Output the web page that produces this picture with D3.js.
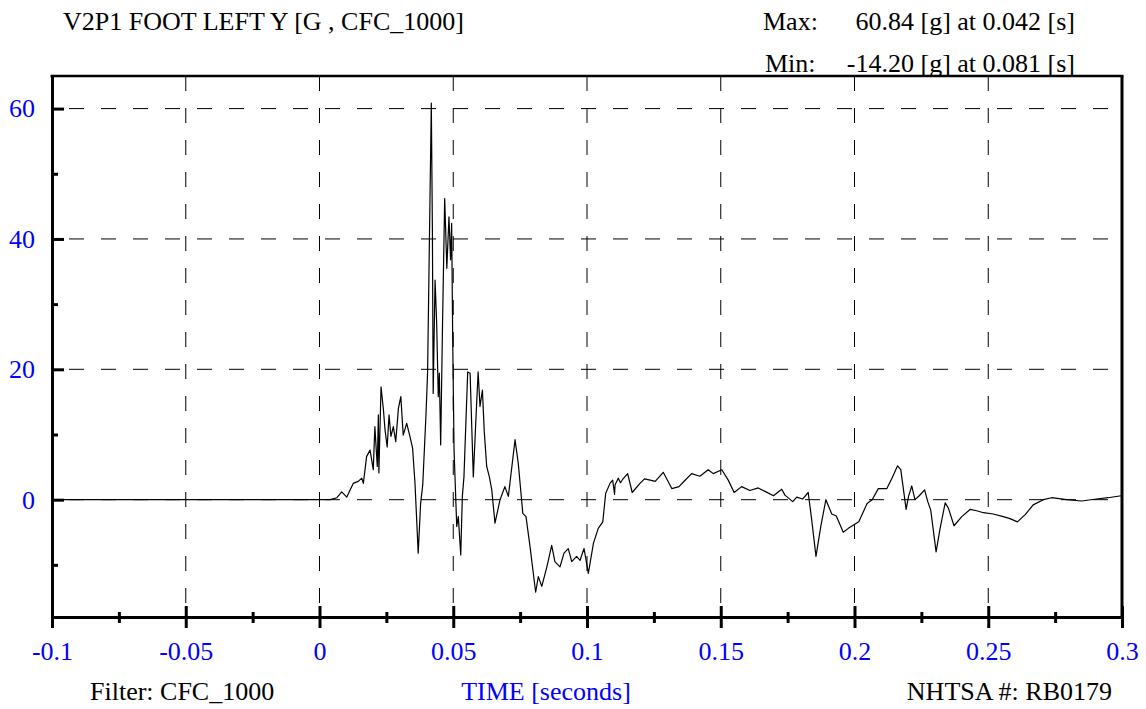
<!DOCTYPE html>
<html>
<head>
<meta charset="utf-8">
<script src="https://cdn.jsdelivr.net/npm/d3@7/dist/d3.min.js"></script>
<style>
  html, body { margin: 0; padding: 0; background: #fff; }
  svg { display: block; }
  text { font-family: "Liberation Serif", "Times New Roman", serif; }
</style>
</head>
<body>
<svg id="chart" width="1146" height="709"></svg>
<script>
// ---- Data ----
const timeSeconds = [
  -0.1, 0.004, 0.0065, 0.0083, 0.0102, 0.0126, 0.0145, 0.0158, 0.0164, 0.0176,
  0.0189, 0.0201, 0.0207, 0.0216, 0.022, 0.0222, 0.023, 0.0239, 0.0245, 0.0253,
  0.026, 0.0267, 0.0276, 0.0285, 0.0295, 0.0304, 0.0313, 0.0326, 0.0338, 0.0348,
  0.0357, 0.0369, 0.0378, 0.0386, 0.0398, 0.0404, 0.0418, 0.0422, 0.0425, 0.0432,
  0.0438, 0.0444, 0.0448, 0.0453, 0.046, 0.0468, 0.0476, 0.0484, 0.049, 0.0494,
  0.0498, 0.0503, 0.0513, 0.0519, 0.0528, 0.0534, 0.054, 0.0554, 0.0563, 0.0575,
  0.0584, 0.0593, 0.06, 0.0609, 0.0616, 0.0625, 0.0635, 0.0644, 0.0656, 0.0675,
  0.0693, 0.0706, 0.0731, 0.0743, 0.076, 0.0772, 0.0787, 0.0808, 0.0818, 0.0831,
  0.085, 0.0868, 0.088, 0.0899, 0.0914, 0.093, 0.0943, 0.0961, 0.0974, 0.0989,
  0.1005, 0.1024, 0.1042, 0.1059, 0.107, 0.1086, 0.1096, 0.1103, 0.1105, 0.1117,
  0.1125, 0.1133, 0.1152, 0.1169, 0.1198, 0.1215, 0.1236, 0.1255, 0.1285, 0.1317,
  0.1344, 0.1365, 0.1391, 0.1422, 0.1453, 0.1472, 0.1504, 0.1528, 0.155, 0.1578,
  0.1609, 0.164, 0.1669, 0.1697, 0.1728, 0.174, 0.1769, 0.1784, 0.1806, 0.1827,
  0.184, 0.1856, 0.1874, 0.1893, 0.1915, 0.1932, 0.1958, 0.1977, 0.2016, 0.2047,
  0.2066, 0.2089, 0.2121, 0.214, 0.2161, 0.2173, 0.2193, 0.2202, 0.2214, 0.2226,
  0.2242, 0.2262, 0.2274, 0.2285, 0.2305, 0.232, 0.2339, 0.2351, 0.2372, 0.2401,
  0.2432, 0.2457, 0.2482, 0.2519, 0.2556, 0.2581, 0.2609, 0.2638, 0.2668, 0.2706,
  0.2737, 0.2793, 0.2849, 0.2905, 0.2948, 0.2997
];
const accelG = [
  0, 0, 0.3, 1.2, 0.4, 2.5, 2.8, 3.3, 2.5, 6.6,
  7.6, 4.6, 11.2, 5.1, 13.0, 4.1, 17.3, 13.8, 10.7, 8.1,
  13.0, 9.7, 11.2, 8.9, 14.0, 15.8, 9.9, 11.7, 9.7, 7.9,
  2.5, -8.2, -0.6, 2.3, 13.0, 19.4, 60.84, 41.4, 16.3, 33.7,
  27.1, 15.8, 19.4, 8.4, 27.1, 46.2, 35.5, 43.4, 36.8, 42.4,
  24.5, 7.6, -4.1, -2.6, -8.5, 0.5, 3.5, 19.6, 19.4, 3.5,
  11.7, 19.6, 14.3, 16.8, 10.4, 5.1, 3.5, 1.5, -3.6, 0,
  2.0, 0.5, 9.2, 5.6, -2.1, -2.6, -7.2, -14.2, -11.8, -13.3,
  -10.3, -7.0, -9.5, -10.3, -8.2, -7.5, -9.5, -8.7, -9.3, -7.5,
  -11.3, -6.7, -4.4, -3.4, 1.0, 2.5, 3.0, 0.8, 2.3, 3.3,
  2.6, 3.1, 4.0, 1.1, 2.5, 3.2, 3.0, 2.8, 4.2, 1.7,
  2.0, 2.9, 4.0, 3.6, 4.6, 4.0, 4.6, 3.0, 1.1, 2.0,
  1.4, 1.8, 1.2, 0.6, 1.6, 0.7, -0.3, 0.4, 0.1, 1.1,
  -3.1, -8.7, -4.1, 0, -2.2, -2.5, -5.0, -4.4, -3.4, -0.6,
  0, 1.7, 1.7, 3.3, 5.2, 4.6, -1.5, 0.5, 2.1, 0,
  0.6, 1.5, -0.3, -1.6, -8.0, -4.4, -0.5, -1.3, -4.0, -2.6,
  -1.5, -1.7, -2.0, -2.2, -2.6, -2.9, -3.4, -2.3, -0.8, 0,
  0.3, 0, -0.2, 0.1, 0.3, 0.6
];
const xMajorTicks = [-0.1, -0.05, 0, 0.05, 0.1, 0.15, 0.2, 0.25, 0.3];
const xTickLabels = ["-0.1", "-0.05", "0", "0.05", "0.1", "0.15", "0.2", "0.25", "0.3"];
const xMinorTicks = [-0.075, -0.025, 0.025, 0.075, 0.125, 0.175, 0.225, 0.275];
const yMajorTicks = [0, 20, 40, 60];
const yTickLabels = ["0", "20", "40", "60"];
const yMinorTicks = [-10, 10, 30, 50];
const xDomain = [-0.1, 0.3];
const yDomain = [-18, 65];
const titleText = "V2P1 FOOT LEFT Y [G , CFC_1000]";
const maxLabel = "Max:", maxValueText = "60.84 [g] at 0.042 [s]";
const minLabel = "Min:", minValueText = "-14.20 [g] at 0.081 [s]";
const filterText = "Filter: CFC_1000";
const xAxisTitle = "TIME [seconds]";
const idText = "NHTSA #: RB0179";

// ---- Layout ----
const L = 52, R = 1122, T = 76, B = 617;
const svg = d3.select("#chart");
const x = d3.scaleLinear().domain(xDomain).range([L, R]);
const y = d3.scaleLinear().domain(yDomain).range([B, T]);
const FS = 26;
const blue = "#0000ff";

// grid
const grid = svg.append("g");
grid.selectAll("line.h").data(yMajorTicks).join("line")
  .attr("x1", L).attr("x2", R)
  .attr("y1", d => y(d)).attr("y2", d => y(d))
  .attr("stroke", "#000")
  .attr("stroke-width", 1)
  .attr("stroke-dasharray", "15,17")
  .attr("stroke-dashoffset", 15);
grid.selectAll("line.v").data(xMajorTicks.filter(d => d > xDomain[0] && d < xDomain[1])).join("line")
  .attr("x1", d => x(d)).attr("x2", d => x(d))
  .attr("y1", T).attr("y2", B)
  .attr("stroke", "#000")
  .attr("stroke-width", 1)
  .attr("stroke-dasharray", "15,17");

// data line
const pts = timeSeconds.map((t, i) => [t, accelG[i]]);
svg.append("path")
  .datum(pts)
  .attr("fill", "none")
  .attr("stroke", "#000")
  .attr("stroke-width", 1.2)
  .attr("stroke-linejoin", "round")
  .attr("d", d3.line().x(d => x(d[0])).y(d => y(d[1])));

// frame
svg.append("line").attr("x1", L - 1.5).attr("x2", R + 1.5).attr("y1", T).attr("y2", T)
  .attr("stroke", "#000").attr("stroke-width", 2.5);
svg.append("line").attr("x1", R).attr("x2", R).attr("y1", T).attr("y2", B)
  .attr("stroke", "#000").attr("stroke-width", 3);

// x axis
const xAxisMajor = d3.axisBottom(x).tickValues(xMajorTicks).tickFormat((d, i) => xTickLabels[i])
  .tickSizeInner(11).tickSizeOuter(0).tickPadding(14);
const gx = svg.append("g").attr("transform", `translate(0,${B})`).call(xAxisMajor);
gx.select(".domain").attr("stroke", "#000").attr("stroke-width", 3);
gx.selectAll(".tick line").attr("stroke", "#000").attr("stroke-width", 3).attr("y1", -11);
gx.selectAll(".tick text").attr("fill", blue).attr("font-size", FS)
  .attr("font-family", "Liberation Serif, serif");
const xAxisMinor = d3.axisBottom(x).tickValues(xMinorTicks).tickFormat("").tickSizeInner(6).tickSizeOuter(0);
const gxm = svg.append("g").attr("transform", `translate(0,${B})`).call(xAxisMinor);
gxm.select(".domain").remove();
gxm.selectAll(".tick line").attr("stroke", "#000").attr("stroke-width", 3).attr("y1", -5);

// y axis
const yAxisMajor = d3.axisLeft(y).tickValues(yMajorTicks).tickFormat((d, i) => yTickLabels[i])
  .tickSizeInner(11).tickSizeOuter(0).tickPadding(6);
const gy = svg.append("g").attr("transform", `translate(${L},0)`).call(yAxisMajor);
gy.select(".domain").attr("stroke", "#000").attr("stroke-width", 3);
gy.selectAll(".tick line").attr("stroke", "#000").attr("stroke-width", 3).attr("x2", 12);
gy.selectAll(".tick text").attr("fill", blue).attr("font-size", FS)
  .attr("font-family", "Liberation Serif, serif");
const yAxisMinor = d3.axisLeft(y).tickValues(yMinorTicks).tickFormat("").tickSizeInner(6).tickSizeOuter(0);
const gym = svg.append("g").attr("transform", `translate(${L},0)`).call(yAxisMinor);
gym.select(".domain").remove();
gym.selectAll(".tick line").attr("stroke", "#000").attr("stroke-width", 3).attr("x2", 6);

// texts
svg.append("text").attr("x", 63).attr("y", 30).attr("font-size", FS).attr("fill", "#000").text(titleText);
svg.append("text").attr("x", 763).attr("y", 30).attr("font-size", FS).attr("fill", "#000").text(maxLabel);
svg.append("text").attr("x", 1075).attr("y", 30).attr("font-size", FS).attr("fill", "#000")
  .attr("text-anchor", "end").text(maxValueText);
svg.append("text").attr("x", 765).attr("y", 72).attr("font-size", FS).attr("fill", "#000").text(minLabel);
svg.append("text").attr("x", 1075).attr("y", 72).attr("font-size", FS).attr("fill", "#000")
  .attr("text-anchor", "end").text(minValueText);
svg.append("text").attr("x", 90).attr("y", 700).attr("font-size", FS).attr("fill", "#000").text(filterText);
svg.append("text").attr("x", 546).attr("y", 700).attr("font-size", FS).attr("fill", blue)
  .attr("text-anchor", "middle").text(xAxisTitle);
svg.append("text").attr("x", 1112).attr("y", 700).attr("font-size", FS).attr("fill", "#000")
  .attr("text-anchor", "end").text(idText);
</script>
</body>
</html>
